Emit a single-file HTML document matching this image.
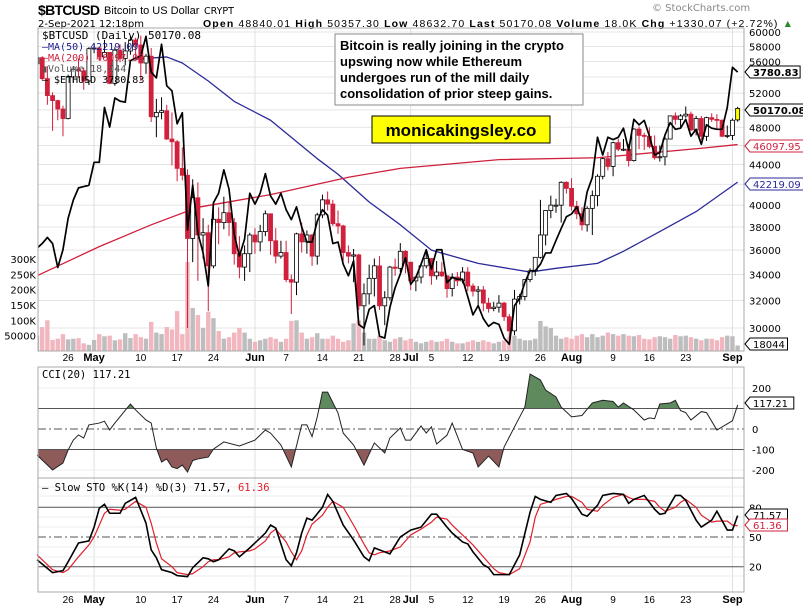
<!DOCTYPE html>
<html><head><meta charset="utf-8">
<style>
html,body{margin:0;padding:0;background:#fff;}
svg{display:block;font-family:"DejaVu Sans","Liberation Sans",sans-serif;}
</style></head>
<body>
<svg id="chart" width="803" height="610" viewBox="0 0 803 610" xmlns="http://www.w3.org/2000/svg">
<defs>
<clipPath id="clipMain"><rect x="38" y="28" width="706" height="323"/></clipPath>
<clipPath id="clipCciUp"><rect x="38" y="367" width="706" height="41"/></clipPath>
<clipPath id="clipCciDn"><rect x="38" y="449" width="706" height="29"/></clipPath>
</defs>
<g>
<text x="38" y="15" font-size="14" font-weight="bold" font-family="Liberation Sans, sans-serif" textLength="62">$BTCUSD</text>
<text x="104" y="14" font-size="11" font-family="Liberation Sans, sans-serif">Bitcoin to US Dollar</text>
<text x="204" y="14" font-size="9.5">CRYPT</text>
<text x="652" y="11" font-size="10" fill="#888">© StockCharts.com</text>
<text x="38" y="27" font-size="10">2-Sep-2021 12:18pm</text>
<text x="203" y="27" font-size="10.5" font-family="Liberation Sans, sans-serif" textLength="590"><tspan font-weight="bold">Open</tspan> 48840.01  <tspan font-weight="bold">High</tspan> 50357.30  <tspan font-weight="bold">Low</tspan> 48632.70  <tspan font-weight="bold">Last</tspan> 50170.08  <tspan font-weight="bold">Volume</tspan> 18.0K  <tspan font-weight="bold">Chg</tspan> +1330.07 (+2.72%) <tspan fill="#2a8a2a">▲</tspan></text>
</g>
<g id="grid"></g>
<g id="vol" clip-path="url(#clipMain)"></g>
<g id="mas" clip-path="url(#clipMain)"></g>
<g id="candles" clip-path="url(#clipMain)"></g>
<g id="eth" clip-path="url(#clipMain)"></g>
<g id="cci"></g>
<g id="sto"></g>
<g id="axes"></g>
<g font-family="DejaVu Sans Mono, monospace">
<text x="42" y="39" font-size="11">$BTCUSD (Daily) 50170.08</text>
<text x="42" y="50" font-size="10" fill="#1c1c8c">—MA(50) 42219.09</text>
<text x="42" y="61" font-size="10" fill="#d0203c">—MA(200) 46097.95</text>
<text x="42" y="72" font-size="10" fill="#555">▮Volume 18,044</text>
<text x="42" y="83" font-size="10">— $ETHUSD 3780.83</text>
</g>
<g>
<rect x="335" y="34" width="248" height="71" fill="#fff" stroke="#888"/>
<text font-size="13" font-weight="bold" font-family="Liberation Sans, sans-serif">
<tspan x="340" y="50">Bitcoin is really joining in the crypto</tspan>
<tspan x="340" y="66">upswing now while Ethereum</tspan>
<tspan x="340" y="82">undergoes run of the mill daily</tspan>
<tspan x="340" y="98">consolidation of prior steep gains.</tspan></text>
<rect x="372" y="116" width="178" height="27" fill="#ffff00" stroke="#000"/>
<text x="461" y="136" font-size="17" font-weight="bold" text-anchor="middle" font-family="Liberation Sans, sans-serif">monicakingsley.co</text>
</g>
</svg>
<script>
const btcClose=[56500,53800,51700,51100,50100,49000,54000,55000,54800,53500,57700,
57800,56600,57200,53200,57500,56400,57400,58900,58200,55800,56700,49200,49700,49900,46700,46400,43600,42900,37000,40700,37300,37500,34700,38700,38400,39300,38400,35700,34600,35700,37300,
36700,37600,39200,36800,35500,35800,33600,33400,37400,36700,37300,35500,39100,40500,40100,38300,38100,35800,35500,35600,31600,32500,33700,34700,31600,32200,34600,34500,35900,35000,
33500,33800,34700,35300,33900,34200,33900,32900,33800,33500,34200,33100,32700,32800,31800,31400,31500,31800,30800,29800,32100,32300,33600,34300,35400,37300,39500,40000,40000,42200,41600,
39900,39200,38200,39700,40900,42800,44600,43800,46300,45600,45600,44400,47800,47100,47000,45900,44700,44800,46700,49300,48900,49300,49500,47700,49000,47000,49100,48900,48800,47000,47100,
48800,50170];
const btcHigh=[57000,56700,55400,52100,51200,50500,54300,55400,56400,55200,57900,
58400,57900,58900,57200,57900,58300,58600,59400,59200,59500,57000,57800,51300,51500,50600,49700,46600,45800,43500,42500,42200,38800,38200,39800,39800,40800,40300,38800,37200,36400,37500,
37900,38200,39500,39200,37900,36800,36800,34000,37500,38400,37700,37400,39300,41000,41300,40500,39500,38200,36400,36100,35700,33300,34800,35300,35500,32700,34700,35300,36600,36000,
35000,33900,34900,35900,35300,35100,35000,33900,34100,34200,34600,34600,33300,33100,33100,32200,31900,32400,31900,31000,32800,32500,33600,34500,35400,40500,39500,40900,40600,42300,42300,
42600,40400,39800,39900,41400,43000,44700,45300,46400,46700,46700,46200,47900,48100,47400,48000,47100,46000,47000,49300,49700,49500,50400,49800,49300,49300,49200,49600,49500,48900,48200,
49000,50357];
const btcLow=[53400,53600,50600,47600,48800,47000,48900,53300,53900,52400,53000,
57100,56100,56500,53100,52900,55900,55500,56900,56200,53500,54400,48600,46900,48900,46600,43900,42300,42400,30000,35000,33500,35300,31200,34500,36500,37800,37200,34800,33700,33500,34200,
35700,35900,37200,35600,34900,35300,33400,31000,32400,35800,35700,34700,34800,38800,39500,38100,37400,35100,34900,33400,31300,28800,31700,32300,31300,30200,32000,33900,34200,34100,
32800,32700,33300,34500,33200,33600,33800,32200,32300,33100,33300,32700,32300,31600,31200,31100,31200,31100,30500,29300,29500,31700,32000,33400,33900,35300,36400,38800,39300,38400,41100,
39500,38700,37700,37600,37300,39900,42500,43400,42800,45400,45400,43800,44300,45600,45500,45700,44500,44300,43900,46700,48300,48000,49100,47600,47100,46600,46500,48600,47800,46900,46800,
46600,48632];
const btcFirstOpen=55700;
const lastOpen=48840;
const ethClose=[2330,2360,2400,2360,2210,2320,2530,2660,2750,2760,2770,
2950,2950,3430,3250,3520,3490,3480,3900,3930,3950,4170,3780,3720,4080,3640,3590,3280,3380,2450,2770,2430,2300,2100,2640,2710,2890,2740,2420,2280,2390,2710,
2630,2710,2860,2690,2630,2710,2590,2520,2610,2470,2370,2370,2510,2590,2550,2360,2370,2230,2160,2250,1890,1870,1970,1990,1830,1820,1980,2090,2170,2270,
2110,2150,2230,2320,2200,2320,2320,2120,2150,2140,2140,2040,1940,1990,1920,1880,1900,1890,1820,1790,1990,2030,2120,2190,2190,2230,2300,2300,2380,2460,2540,
2560,2610,2510,2720,2830,3160,3010,3160,3140,3160,3240,3050,3320,3270,3310,3170,3010,3030,3180,3290,3230,3240,3320,3170,3230,3100,3270,3240,3230,3230,3430,
3830,3780];
const volumeK=[50,78,100,36,40,55,38,40,42,25,20,
36,55,48,50,35,38,58,42,55,45,40,95,60,55,78,70,130,55,290,140,117,75,127,107,65,40,45,60,75,60,40,
30,35,40,45,40,30,40,98,100,60,40,45,58,40,40,50,40,30,35,90,100,60,40,40,50,35,30,40,45,35,
40,30,25,30,35,30,32,40,30,25,25,30,35,30,35,30,25,30,35,45,50,40,35,35,40,98,80,75,50,40,45,
40,50,55,45,55,45,50,60,55,50,55,50,48,52,40,38,45,48,45,40,52,48,50,45,40,35,40,40,35,45,50,
48,18];
const ma50Days=[19,21,25,28,33,38,45,54,58,64,70,76,85,95,100,108,113,120,127,135];
const ma50Vals=[56300,56400,56600,55800,53500,51000,48800,44600,43000,40300,38200,36000,34900,34200,34500,34900,35900,37600,39400,42219];
const ma200Days=[0,12,22,31,45,60,70,89,108,128,135];
const ma200Vals=[33900,36300,38200,39800,41000,42700,43600,44500,44700,45700,46098];
const cciDays=[0,3,5,6,7,8,9,10,12,13,14,15,18,19,21,22,23,24,25,26,27,28,29,30,31,33,34,36,39,42,44,45,47,49,51,52,53,54,55,56,58,59,61,63,65,67,68,70,71,72,74,75,76,77,79,80,82,84,85,87,89,90,92,94,95,97,98,100,101,103,105,107,109,111,112,113,115,117,118,119,120,122,123,124,125,126,128,129,131,132,134,135];
const cciVals=[-127,-200,-166,-102,-54,-29,-44,20,29,38,-5,29,122,93,44,29,-93,-161,-146,-185,-193,-176,-210,-154,-146,-137,-98,-63,-83,-54,-5,-20,-78,-185,20,20,-37,59,180,180,78,-20,-78,-176,-68,-117,-44,5,-54,-54,15,-20,10,-73,-30,29,-100,-117,-185,-132,-185,-88,10,107,268,239,190,156,107,59,66,127,140,134,107,127,93,44,54,50,122,127,140,90,80,44,85,80,-5,10,40,117.21];
const stoDays=[0,3,5,6,8,10,11,12,13,14,16,17,19,21,22,23,24,26,27,29,30,32,33,34,35,37,38,39,41,42,44,45,46,48,49,50,51,52,53,55,56,57,59,61,63,64,65,66,68,70,72,74,76,77,79,80,82,83,84,86,87,88,89,91,93,95,96,97,99,100,102,103,105,106,108,109,111,113,114,115,117,119,120,121,123,124,125,127,128,130,131,133,134,135];
const stoK=[27,14,16,25,44,46,60,79,83,74,74,84,90,64,37,29,17,14,11,10,19,29,28,25,27,38,36,30,39,44,54,62,59,27,21,34,54,69,67,80,93,86,62,47,30,26,39,37,33,50,57,60,73,73,60,54,45,43,35,22,19,12,12,12,32,75,91,88,85,92,94,89,73,71,82,92,94,93,84,88,92,78,73,74,92,92,87,67,60,67,76,57,57,71.57];
const stoD=[32,17,14,17,30,42,50,62,74,78,77,78,86,80,64,44,28,20,14,12,13,20,25,27,27,30,34,35,36,38,46,54,58,45,35,27,36,52,63,72,80,86,80,62,43,34,32,34,36,40,52,58,65,70,68,62,52,47,42,30,24,18,14,12,18,45,70,83,86,88,91,91,85,78,76,82,90,93,90,88,88,86,80,76,80,85,88,80,72,65,66,66,62,61.36];
const priceTicks=[30000,32000,34000,36000,38000,40000,44000,48000,52000,56000,58000,60000];
const gridPrices=[30000,32000,34000,36000,38000,40000,42000,44000,46000,48000,50000,52000,54000,56000,58000,60000];
const volTickLabels=["50000","100K","150K","200K","250K","300K"];
const volTickVals=[50,100,150,200,250,300];
const dateLabels=["26","May","10","17","24","Jun","7","14","21","28","Jul","5","12","19","26","Aug","9","16","23","Sep"];
const dateDays=[6,11,20,27,34,42,48,55,62,69,72,76,83,90,97,103,111,118,125,134];
const monthDays=[11,42,72,103,134];

const NS="http://www.w3.org/2000/svg";
function mk(tag,attrs,parent){const e=document.createElementNS(NS,tag);for(const k in attrs)e.setAttribute(k,attrs[k]);parent.appendChild(e);return e;}
const X=d=>37+5.19*d;
const YP=p=>328-427*Math.log(p/30000);
const YE=e=>72+364*Math.log(3780.83/e);
const YV=v=>351-0.307*v;
const YC=v=>429-0.205*v;
const YS=v=>586.5-0.99*v;
const L=38,R=744;

const grid=document.getElementById('grid');
gridPrices.forEach(p=>{const l=mk('line',{x1:L,x2:R,y1:YP(p),y2:YP(p),stroke:'#e4e4e4'},grid);

});
monthDays.forEach(d=>{[[28,351],[367,592]].forEach(r=>{const l=mk('line',{x1:X(d),x2:X(d),y1:r[0],y2:r[1],stroke:'#e0e0e0'},grid);

});});
[487,496,517,527,547,557,576].forEach(y=>{const l=mk('line',{x1:38,x2:R,y1:y,y2:y,stroke:'#eeeeee'},grid);

});
[388,470].forEach(y=>{const l=mk('line',{x1:38,x2:R,y1:y,y2:y,stroke:'#eeeeee'},grid);

});

const vol=document.getElementById('vol');
volumeK.forEach((v,i)=>{const up=i===0?true:btcClose[i]>=btcClose[i-1];
const b=mk('rect',{x:X(i)-2.2,y:YV(v),width:4.4,height:351-YV(v),fill:up?'#bdbdbd':'#f2b6bf'},vol);

});

const mas=document.getElementById('mas');
const p50=mk('polyline',{points:ma50Days.map((d,i)=>X(d)+','+YP(ma50Vals[i])).join(' '),fill:'none',stroke:'#2b2b9a','stroke-width':1.3,'stroke-linejoin':'round'},mas);


const p200=mk('polyline',{points:ma200Days.map((d,i)=>X(d)+','+YP(ma200Vals[i])).join(' '),fill:'none',stroke:'#d0203c','stroke-width':1.3},mas);



const cg=document.getElementById('candles');
btcClose.forEach((c,i)=>{
 const o=i===0?btcFirstOpen:(i===btcClose.length-1?lastOpen:btcClose[i-1]);
 const last=i===btcClose.length-1;
 const dn=c<o;
 const col=last?'#000':(dn?'#d0203c':'#000');
 const w=mk('line',{x1:X(i),x2:X(i),y1:YP(btcHigh[i]),y2:YP(btcLow[i]),stroke:col,'stroke-width':1},cg);
 
 
 const top=YP(Math.max(o,c)),bot=YP(Math.min(o,c));
 const b=mk('rect',{x:X(i)-2,y:top,width:4,height:Math.max(1,bot-top),fill:last?'#ffff00':(dn?'#d0203c':'#fff'),stroke:col,'stroke-width':0.8},cg);
 
 
});

const eg=document.getElementById('eth');
const ep=mk('polyline',{points:ethClose.map((e,i)=>X(i)+','+YE(e)).join(' '),fill:'none',stroke:'#000','stroke-width':1.7,'stroke-linejoin':'round'},eg);



const cg2=document.getElementById('cci');
const cpts=cciDays.map((d,i)=>X(d)+','+YC(cciVals[i])).join(' ');
const first=X(cciDays[0]),lastx=X(cciDays[cciDays.length-1]);
const fu=mk('polygon',{points:first+','+YC(100)+' '+cpts+' '+lastx+','+YC(100),fill:'#5e8a5e','clip-path':'url(#clipCciUp)'},cg2);


const fd=mk('polygon',{points:first+','+YC(-100)+' '+cpts+' '+lastx+','+YC(-100),fill:'#8e5a5a','clip-path':'url(#clipCciDn)'},cg2);


[[100,'none'],[-100,'none'],[0,'8 3 2 3']].forEach(a=>{const l=mk('line',{x1:38,x2:R,y1:YC(a[0]),y2:YC(a[0]),stroke:'#555','stroke-width':1,'stroke-dasharray':a[1]},cg2);

});
const cl=mk('polyline',{points:cpts,fill:'none',stroke:'#222','stroke-width':1},cg2);



const sg=document.getElementById('sto');
[[80,'none'],[20,'none'],[50,'8 3 2 3']].forEach(a=>{const l=mk('line',{x1:38,x2:R,y1:YS(a[0]),y2:YS(a[0]),stroke:'#555','stroke-width':1,'stroke-dasharray':a[1]},sg);

});
const sd=mk('polyline',{points:stoDays.map((d,i)=>X(d)+','+YS(stoD[i])).join(' '),fill:'none',stroke:'#e0202c','stroke-width':1.2},sg);


const sk=mk('polyline',{points:stoDays.map((d,i)=>X(d)+','+YS(stoK[i])).join(' '),fill:'none',stroke:'#000','stroke-width':1.6},sg);



const ax=document.getElementById('axes');
[[28,351],[367,478],[478,592]].forEach(r=>{const b=mk('rect',{x:38,y:r[0],width:R-38,height:r[1]-r[0],fill:'none',stroke:'#aaa'},ax);

});
function txt(x,y,s,attrs,name){const t=mk('text',Object.assign({x:x,y:y,'font-size':10},attrs||{}),ax);t.textContent=s;

return t;}
priceTicks.forEach(p=>txt(749,YP(p)+4,String(p),{},'price-tick-label'));
volTickVals.forEach((v,i)=>txt(36,YV(v)+4,volTickLabels[i],{'text-anchor':'end'},'volume-tick-label'));
[200,0,-100,-200].forEach(v=>txt(752,YC(v)+4,String(v),{},'cci-tick-label'));
[80,50,20].forEach(v=>txt(749,YS(v)+4,String(v),{},'sto-tick-label'));
dateLabels.forEach((s,i)=>{const bold=/[A-Za-z]/.test(s);
[361,603].forEach(y=>txt(X(dateDays[i]),y,s,{'text-anchor':'middle','font-weight':bold?'bold':'normal','font-size':bold?11:10,'font-family':'Liberation Sans, sans-serif'},'date-label'));});
function tag(y,s,col,bold,name){const w=s.length*6.3+6;
const p=mk('polygon',{points:`745,${y} 750,${y-6} ${750+w},${y-6} ${750+w},${y+6} 750,${y+6}`,fill:'#fff',stroke:col},ax);


txt(753,y+4,s,{fill:col,'font-weight':bold?'bold':'normal'},name);}
tag(72,'3780.83','#000',true,'eth-last-tag');
tag(110,'50170.08','#000',true,'btc-last-tag');
tag(146,'46097.95','#d0203c',false,'ma200-tag');
tag(184,'42219.09','#2b2b9a',false,'ma50-tag');
tag(344,'18044','#000',false,'volume-tag');
tag(403,'117.21','#000',false,'cci-tag');
tag(515,'71.57','#000',false,'sto-k-tag');
tag(525,'61.36','#d0203c',false,'sto-d-tag');
txt(42,378,'CCI(20) 117.21',{'font-family':'DejaVu Sans Mono, monospace','font-size':10.5},'cci-legend');
const t=txt(42,491,'— Slow STO %K(14) %D(3) 71.57, ',{'font-family':'DejaVu Sans Mono, monospace','font-size':10.5},'sto-legend');
const ts=document.createElementNS(NS,'tspan');ts.setAttribute('fill','#e0202c');ts.textContent='61.36';t.appendChild(ts);
</script>
</body></html>
